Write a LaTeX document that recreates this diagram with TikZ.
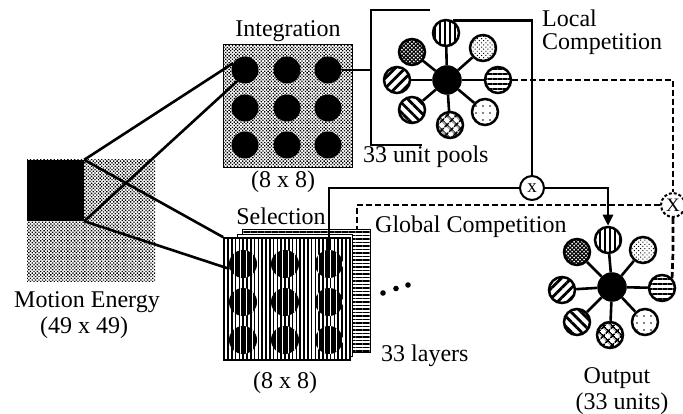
\documentclass[tikz,border=0pt]{standalone}
\usepackage{fontspec}
\setmainfont{Liberation Serif}
\usetikzlibrary{patterns,patterns.meta,arrows.meta}
\begin{document}
\begin{tikzpicture}[x=1pt,y=-1pt,
  font=\fontsize{24}{26}\selectfont,
  wire/.style={line width=2.6pt},
  dwire/.style={line width=2.7pt, dash pattern=on 6pt off 3pt},
  lbl/.style={inner sep=0pt},
  unit/.style={circle, draw, line width=2.5pt, minimum size=26pt, inner sep=0pt},
  hub/.style={unit, fill=black, minimum size=27pt},
  blob/.style={circle, fill=black, minimum size=27pt, inner sep=0pt},
  sblob/.style={circle, minimum size=28pt, inner sep=0pt, preaction={fill=black},
    pattern={Lines[angle=90, distance=6pt, line width=0.7pt]}, pattern color=white},
  stipple/.style={pattern={Dots[distance=2.4pt, radius=0.95pt, angle=45]}},
  pvert/.style={pattern={Lines[angle=90, distance=5pt, line width=2.3pt]}},
  phorz/.style={pattern={Lines[angle=0, distance=5pt, line width=2.3pt]}},
  pne/.style={pattern={Lines[angle=45, distance=7pt, line width=2.8pt]}},
  pnw/.style={pattern={Lines[angle=-45, distance=7pt, line width=2.8pt]}},
  pdark/.style={pattern={Hatch[angle=45, distance=2.8pt, line width=1.1pt]}},
  plight/.style={pattern={Dots[distance=3pt, radius=0.7pt, angle=45]}},
  psparse/.style={pattern={Dots[distance=7pt, radius=0.9pt]}},
  pgrid/.style={pattern={Hatch[angle=45, distance=6.5pt, line width=1.8pt]}},
  mult/.style={circle, draw, line width=2pt, minimum size=24pt, inner sep=0pt,
    font=\fontsize{19}{19}\selectfont},
  box/.style={rectangle, inner sep=0pt}
]
\useasboundingbox (0,0) rectangle (683,414);

% ---------- Motion energy ----------
\node[box, stipple, minimum width=128pt, minimum height=122pt] (me) at (91,221) {};
\node[box, fill=black, minimum width=57pt, minimum height=61pt] (meblack) at (55.5,190.5) {};
\node[lbl, anchor=base] (tMe) at (87,308) {Motion Energy};
\node[lbl, anchor=base] (tMe2) at (84,333) {(49 x 49)};

% ---------- Integration ----------
\node[box, draw, line width=1pt, stipple, minimum width=129pt, minimum height=123pt] (integ) at (287.5,106.5) {};
\foreach \c/\x in {1/245,2/287,3/328}{
  \foreach \r/\y in {1/70,2/108,3/145}{
    \node[blob] (i\r\c) at (\x,\y) {};
  }
}
\node[lbl, anchor=base] (tInt) at (288,37) {Integration};
\node[lbl, anchor=base] (tInt8) at (283,188) {(8 x 8)};

% ---------- Selection (stack of layers) ----------
\node[box, draw, line width=1pt, preaction={fill=white},
  pattern={Lines[angle=0, distance=3.5pt, line width=1.6pt]},
  minimum width=128pt, minimum height=122pt] (selback) at (306,291) {};
\node[box, draw, line width=0.9pt, fill=white, minimum width=115pt, minimum height=122pt] (selmid) at (294.5,295) {};
\node[box, draw, line width=1.2pt, preaction={fill=white},
  pattern={Lines[angle=90, distance=3.8pt, line width=1.6pt]},
  minimum width=126pt, minimum height=122pt] (sel) at (287,299) {};
\foreach \c/\x in {1/243,2/285,3/329}{
  \foreach \r/\y in {1/264,2/302,3/340}{
    \node[sblob] (s\r\c) at (\x,\y) {};
  }
}
\node[lbl, anchor=base] (tSel) at (281,225) {Selection};
\node[lbl, anchor=base] (tSel8) at (285,388) {(8 x 8)};
\node[lbl, anchor=base west] (tLay) at (381,361) {33 layers};
\fill (383,293) circle (2.8pt) (396,288.5) circle (2.8pt) (408,285) circle (2.8pt);

% ---------- connections from motion energy ----------
\draw[wire] (meblack.north east) -- (i11.150);
\draw[wire] (meblack.south east) -- (i11.235);
\draw[wire] (meblack.north east) -- (sel.north west);
\draw[wire] (meblack.south east) -- (s11.200);

% ---------- Local competition ----------
\coordinate (bkt) at (371,70);
\coordinate (bktT) at (430,10);
\coordinate (bktTL) at (371,10);
\coordinate (bktBL) at (371,145);
\coordinate (bktB) at (422,145);
\draw[wire] (bktT) -- (bktTL) -- (bktBL) -- (bktB);
\draw[wire] (i13) -- (bkt);

\node[hub] (lc) at (447,80) {};
\node[unit, pvert] (lt) at (446,33) {};
\node[unit, pdark] (ltl) at (412,52) {};
\node[unit, plight] (ltr) at (483,48) {};
\node[unit, phorz] (lr) at (498,80) {};
\node[unit, psparse] (lbr) at (485,112) {};
\node[unit, pgrid] (lb) at (450,125) {};
\node[unit, pnw] (lbl) at (412,110) {};
\node[unit, pne] (ll) at (397,80) {};
\foreach \n in {lt,ltl,ltr,lr,lbr,lb,lbl,ll}{ \draw[wire] (lc) -- (\n); }
\node[lbl, anchor=base west] (tLoc1) at (542,27) {Local};
\node[lbl, anchor=base west] (tLoc2) at (542,50) {Competition};
\node[lbl, anchor=base west] (tPools) at (363,163) {33 unit pools};

% ---------- Output ----------
\node[hub] (oc) at (612,287) {};
\node[unit, pvert] (ot) at (608,240) {};
\node[unit, pdark] (otl) at (577,252) {};
\node[unit, plight] (otr) at (643,250) {};
\node[unit, phorz] (orr) at (662,288) {};
\node[unit, psparse] (obr) at (645,322) {};
\node[unit, pgrid] (ob) at (610,335) {};
\node[unit, pnw] (obl) at (577,322) {};
\node[unit, pne] (ol) at (562,290) {};
\foreach \n in {ot,otl,otr,orr,obr,ob,obl,ol}{ \draw[wire] (oc) -- (\n); }
\node[lbl, anchor=base] (tOut) at (617,383) {Output};
\node[lbl, anchor=base] (tOut2) at (622,409) {(33 units)};

% ---------- multipliers and competition wiring ----------
\node[mult] (mx) at (532,188) {x};
\node[mult, dash pattern=on 3pt off 2pt] (dx) at (673,205) {X};
\coordinate (selTop) at (357,230);
\coordinate (dxb) at (673,252);

\draw[wire] (lt.60) -- (lt.60 -| mx) -- (mx.north);
\draw[wire] (s13.north) |- (mx.west);
\draw[wire, -{Triangle[length=11pt, width=10pt]}] (mx.east) -| (ot.north);

\draw[dwire] (lr.east) -| (dx.north);
\draw[dwire] (dx.west) -| (selTop);
\draw[dwire] (dx.south) -- (dxb) -- (orr.45);
\node[lbl, anchor=base west] (tGlob) at (375,233) {Global Competition};
\end{tikzpicture}
\end{document}
